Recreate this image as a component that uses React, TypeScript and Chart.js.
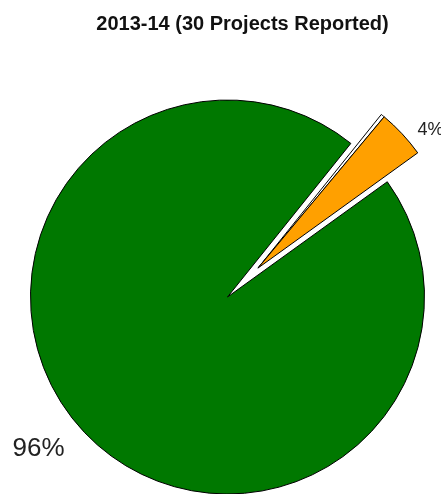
import React, { useEffect, useRef } from "react";
import { Chart, registerables } from "chart.js";

Chart.register(...registerables);

const TITLE = "2013-14 (30 Projects Reported)";
const categories = ["Reported", "Gap", "Not Reported"];
const values = [96, 0.3, 4];
const pctLabels = ["96%", "", "4%"];

// style constants
const sliceColors = ["#007800", "#ffffff", "#ffa000"];
const EXPLODE_DIST = 42;
const EXPLODED = [false, true, true];
const LABEL_RADIUS = [1.14, 1.1, 1.1];

const FONT = "'Liberation Sans', Arial, Helvetica, sans-serif";

const explodePlugin = {
  id: "explode",
  afterDatasetUpdate(chart: any, args: any) {
    const meta = chart.getDatasetMeta(args.index);
    const arcs = meta.data.filter((_: any, i: number) => EXPLODED[i]);
    if (!arcs.length) return;
    const start = Math.min(...arcs.map((a: any) => a.startAngle));
    const end = Math.max(...arcs.map((a: any) => a.endAngle));
    const mid = (start + end) / 2;
    arcs.forEach((arc: any) => {
      arc.x += Math.cos(mid) * EXPLODE_DIST;
      arc.y += Math.sin(mid) * EXPLODE_DIST;
    });
  },
};

const textPlugin = {
  id: "pieText",
  afterDraw(chart: any) {
    const ctx = chart.ctx;
    ctx.save();
    ctx.fillStyle = "#111";
    ctx.font = `bold 20px ${FONT}`;
    ctx.textAlign = "center";
    ctx.textBaseline = "alphabetic";
    ctx.fillText(TITLE, 242.5, 29.5);

    const meta = chart.getDatasetMeta(0);
    meta.data.forEach((arc: any, i: number) => {
      const label = pctLabels[i];
      if (!label) return;
      const mid = (arc.startAngle + arc.endAngle) / 2;
      const r = arc.outerRadius * LABEL_RADIUS[i];
      const tx = arc.x + Math.cos(mid) * r;
      const ty = arc.y + Math.sin(mid) * r;
      ctx.font = `${i === 0 ? 26 : 18}px ${FONT}`;
      ctx.fillStyle = "#222";
      ctx.textAlign = Math.cos(mid) >= 0 ? "left" : "right";
      ctx.textBaseline = "middle";
      ctx.fillText(label, tx + (Math.cos(mid) >= 0 ? 1 : 0), ty + (Math.cos(mid) >= 0 ? 10 : -3));
    });
    ctx.restore();
  },
};

export default function App() {
  const ref = useRef<HTMLCanvasElement | null>(null);
  useEffect(() => {
    if (!ref.current) return;
    const chart = new Chart(ref.current, {
      type: "pie",
      data: {
        labels: categories,
        datasets: [
          {
            data: values,
            backgroundColor: sliceColors,
            borderColor: "#000000",
            borderWidth: 1,
            offset: 0,
            hoverOffset: 0,
            clip: false as any,
          },
        ],
      },
      options: {
        responsive: false,
        animation: false,
        rotation: 54.2,
        radius: 197,
        layout: { padding: { left: 14, top: 100, right: 0, bottom: 0 } },
        plugins: {
          legend: { display: false },
          tooltip: { enabled: false },
          title: { display: false },
        },
        events: [],
      } as any,
      plugins: [explodePlugin, textPlugin],
    });
    return () => chart.destroy();
  }, []);
  return (
    <div style={{ position: "absolute", left: 0, top: 0, width: 441, height: 494, background: "#fff" }}>
      <canvas ref={ref} width={441} height={494} style={{ display: "block" }} />
    </div>
  );
}
